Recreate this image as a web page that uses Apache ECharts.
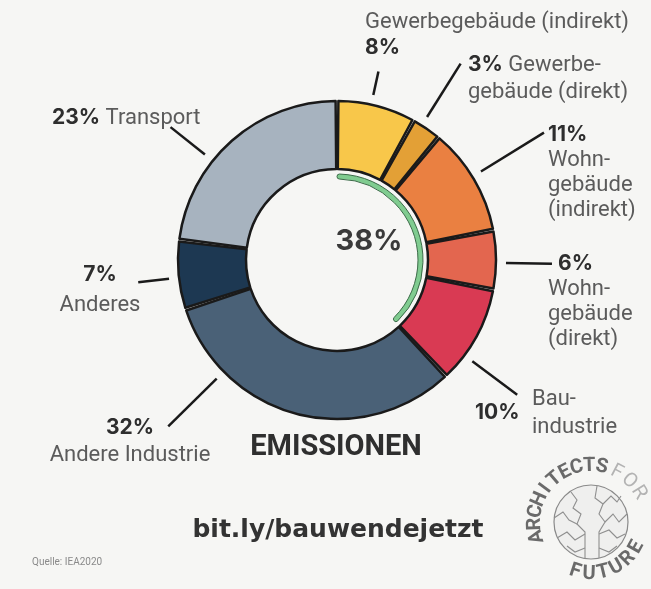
<!DOCTYPE html>
<html>
<head>
<meta charset="utf-8">
<title>Emissionen</title>
<script src="https://cdn.jsdelivr.net/npm/echarts@6/dist/echarts.min.js"></script>
<style>
  html, body { margin: 0; padding: 0; background: #f6f6f4; }
  #chart { width: 651px; height: 589px; }
</style>
</head>
<body>
<div id="chart"></div>
<script>
  // Anteile an den Emissionen, im Uhrzeigersinn ab 12 Uhr
  var sectors = ['Gewerbegebäude (indirekt)', 'Gewerbe-\ngebäude (direkt)', 'Wohn-\ngebäude\n(indirekt)',
    'Wohn-\ngebäude\n(direkt)', 'Bau-\nindustrie', 'Andere Industrie', 'Anderes', 'Transport'];
  var shares = [8, 3, 11, 6, 10, 32, 7, 23];
  var buildingSectors = 5; // die ersten fünf gehören zum Gebäudesektor
  var centerTitle = 'EMISSIONEN';
  var linkText = 'bit.ly/bauwendejetzt';
  var sourceText = 'Quelle: IEA2020';

  var colors = ['#f8c74a', '#e3a036', '#ea8041', '#e3664f', '#d93a53', '#4a6177', '#1d3852', '#a7b3bf'];

  var cx = 337, cy = 260, rIn = 91, rOut = 159;

  // wo die Beschriftungen stehen (y = Mitte der ersten Zeile)
  var spots = [
    { x: 365, y: 22, align: 'left', kind: 'nameTop', lh: 26, ang: -2, r2: 193 },
    { x: 468, y: 65, align: 'left', kind: 'inline', lh: 27, ang: -2, r2: 232 },
    { x: 548, y: 135, align: 'left', kind: 'stack', lh: 25, ang: -1, r2: 243 },
    { x: 548, y: 264, align: 'left', kind: 'stackPad', lh: 25.3, ang: 1, r2: 215 },
    { x: 475, y: 399, align: 'left', kind: 'side', lh: 14, ang: 8, r2: 225 },
    { x: 130, y: 428, align: 'center', kind: 'stack', lh: 27, ang: 31, r2: 237 },
    { x: 100, y: 275, align: 'center', kind: 'stack', lh: 30, ang: -1, r2: 200 },
    { x: 52, y: 118, align: 'left', kind: 'inline', lh: 27, ang: -10, r2: 213 }
  ];

  var total = shares.reduce(function (a, b) { return a + b; }, 0);
  var building = shares.slice(0, buildingSectors).reduce(function (a, b) { return a + b; }, 0);

  // mittlerer Winkel jedes Segments, Grad im Uhrzeigersinn ab oben
  var midAngles = [];
  var acc = 0;
  shares.forEach(function (v) {
    midAngles.push((acc + v / 2) / total * 360);
    acc += v;
  });

  function polar(deg, r) {
    var a = deg * Math.PI / 180;
    return [cx + r * Math.sin(a), cy - r * Math.cos(a)];
  }

  function richFor(lh) {
    var t = { fontFamily: 'Roboto', fontSize: 22, color: '#5b5b5b', lineHeight: lh };
    var p = { fontFamily: 'Inter', fontWeight: 'bold', fontSize: 21, color: '#2e2e2e', lineHeight: lh };
    return {
      t: t,
      p: p,
      q: Object.assign({}, p, { padding: [0, 0, 0, 10] }),
      sp: { width: 57, lineHeight: lh }
    };
  }

  function labelText(i) {
    var lines = sectors[i].split('\n');
    var pct = shares[i] + '%';
    var kind = spots[i].kind;
    if (kind === 'nameTop') {
      return '{t|' + lines.join('}\n{t|') + '}\n{p|' + pct + '}';
    }
    if (kind === 'inline') {
      return '{p|' + pct + '} {t|' + lines[0] + '}' +
        lines.slice(1).map(function (l) { return '\n{t|' + l + '}'; }).join('');
    }
    if (kind === 'side') {
      return '{sp|}{t|' + lines[0] + '}\n{p|' + pct + '}\n{sp|}{t|' + lines[1] + '}';
    }
    var head = kind === 'stackPad' ? '{q|' : '{p|';
    return head + pct + '}' + lines.map(function (l) { return '\n{t|' + l + '}'; }).join('');
  }

  var pieData = shares.map(function (v, i) {
    return {
      value: v,
      name: sectors[i],
      itemStyle: { color: colors[i] },
      label: { lineHeight: spots[i].lh, rich: richFor(spots[i].lh) }
    };
  });

  // Logo: Buchstaben auf einem Kreis
  var logo = { x: 591, y: 522 };
  function ringLetters(word, startDeg, step, r, outward, style) {
    return word.split('').map(function (ch, k) {
      var deg = startDeg + k * step;
      var a = deg * Math.PI / 180;
      var rot = outward ? -deg : 180 - deg;
      return {
        type: 'text',
        x: logo.x + r * Math.sin(a),
        y: logo.y - r * Math.cos(a),
        rotation: rot * Math.PI / 180,
        style: Object.assign({ text: ch, textAlign: 'center', textVerticalAlign: 'middle' }, style)
      };
    });
  }
  var logoBold = { font: 'bold 20px Roboto', fill: '#6a6a6a' };
  var logoLight = { font: '20px Roboto', fill: '#b3b3b3' };

  var globeLines = [
    [[-20, -30], [-14, -22], [-18, -14], [-10, -8], [-14, 2], [-6, 10], [-6, 36]],
    [[6, -36], [4, -24], [12, -18], [8, -8], [14, 0], [8, 10], [8, 36]],
    [[-37, -4], [-28, -10], [-22, -2], [-14, 2]],
    [[-34, 16], [-24, 10], [-16, 18], [-6, 12]],
    [[14, 0], [22, -8], [28, 0], [36, -8]],
    [[8, 12], [18, 8], [26, 16], [34, 12]],
    [[12, -18], [20, -26], [26, -20], [30, -26]],
    [[-24, 24], [-16, 30], [-6, 26]],
    [[8, 26], [18, 30], [26, 24]]
  ];

  var graphics = [
    { type: 'text', x: 336, y: 448,
      style: { text: centerTitle, font: 'bold 29px Roboto', fill: '#2f2f2f', textAlign: 'center', textVerticalAlign: 'middle' } },
    { type: 'text', x: 338, y: 530,
      style: { text: linkText, font: 'bold 25px "DejaVu Sans"', fill: '#333', textAlign: 'center', textVerticalAlign: 'middle' } },
    { type: 'text', x: 32, y: 562,
      style: { text: sourceText, font: '10px Roboto', fill: '#8a8a8a', textAlign: 'left', textVerticalAlign: 'middle' } },
    { type: 'circle', shape: { cx: logo.x, cy: logo.y, r: 37 },
      style: { fill: '#efefee', stroke: '#8a8a8a', lineWidth: 1.2 } }
  ];
  globeLines.forEach(function (pts) {
    graphics.push({
      type: 'polyline',
      shape: { points: pts.map(function (p) { return [logo.x + p[0], logo.y + p[1]]; }) },
      style: { stroke: '#8f8f8f', lineWidth: 1.1, fill: null }
    });
  });
  graphics = graphics
    .concat(ringLetters('ARCHITECTS', 255, 12.9, 56, true, logoBold))
    .concat(ringLetters('FOR', 27.4, 15.5, 56, true, logoLight))
    .concat(ringLetters('FUTURE', 198, -15.8, 52, false, logoBold));

  var chart = echarts.init(document.getElementById('chart'));
  chart.setOption({
    backgroundColor: '#f6f6f4',
    animation: false,
    graphic: graphics,
    series: [{
      type: 'pie',
      center: [cx, cy],
      radius: [rIn, rOut],
      startAngle: 90,
      clockwise: true,
      padAngle: 1,
      avoidLabelOverlap: false,
      silent: true,
      itemStyle: { borderColor: '#1a1a1a', borderWidth: 2.5 },
      label: {
        show: true,
        position: 'outside',
        fontFamily: 'Roboto',
        fontSize: 22,
        color: '#5b5b5b',
        formatter: function (params) { return labelText(params.dataIndex); }
      },
      labelLine: { show: true, lineStyle: { color: '#1a1a1a', width: 2.5 } },
      labelLayout: function (params) {
        var i = params.dataIndex;
        var s = spots[i];
        var a = midAngles[i] + s.ang;
        return {
          x: s.x,
          y: s.y - s.lh / 2,
          align: s.align,
          verticalAlign: 'top',
          labelLinePoints: [polar(a, 169), polar(a, s.r2)]
        };
      },
      data: pieData
    }, {
      // grüner Bogen für den Gebäudeanteil
      type: 'pie',
      center: [cx, cy],
      radius: [81, 86],
      startAngle: 90,
      clockwise: true,
      silent: true,
      labelLayout: { dx: 32, dy: -19 },
      data: [{
        value: building,
        name: 'Gebäude',
        itemStyle: { color: '#80cc90', borderColor: '#3b6b48', borderWidth: 1, borderRadius: 3 },
        label: {
          show: true,
          position: 'center',
          formatter: building + '%',
          fontFamily: 'Inter',
          fontWeight: 'bold',
          fontSize: 29,
          color: '#3a3a3a'
        }
      }, {
        value: total - building,
        name: 'Rest',
        itemStyle: { color: 'transparent' },
        label: { show: false },
        labelLine: { show: false }
      }]
    }]
  });
</script>
</body>
</html>
